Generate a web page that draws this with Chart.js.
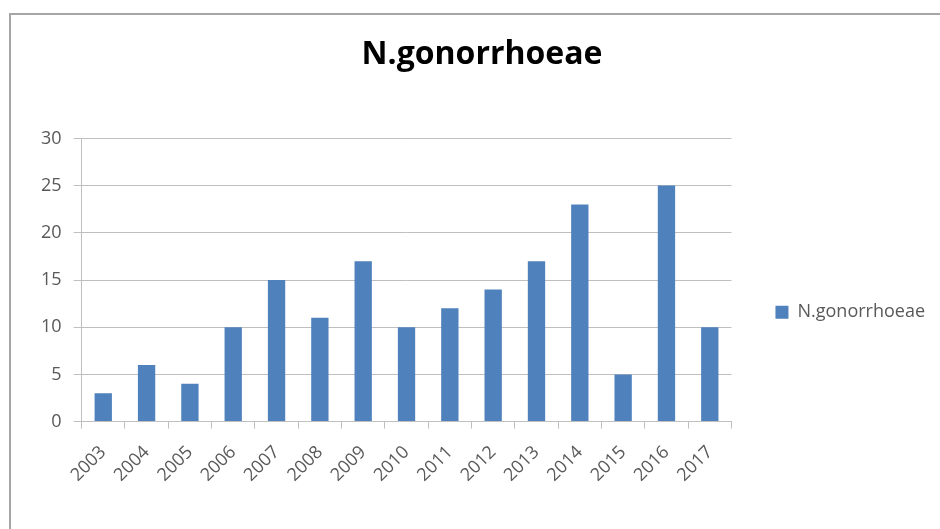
<!DOCTYPE html>
<html>
<head>
<meta charset="utf-8">
<title>N.gonorrhoeae</title>
<script src="https://cdn.jsdelivr.net/npm/chart.js@4/dist/chart.umd.min.js"></script>
<style>
    html, body { margin: 0; padding: 0; background: #fff; overflow: hidden; }
    #wrap { position: relative; width: 940px; height: 529px; }
    #frame { position: absolute; left: 9px; top: 13px; width: 1000px; height: 600px; border: 2px solid #a6a6a6; box-sizing: border-box; }
    canvas { position: absolute; left: 0; top: 0; }
</style>
</head>
<body>
<div id="wrap">
    <div id="frame"></div>
    <canvas id="chart" width="940" height="529"></canvas>
</div>
<script>
// data
const years = ['2003', '2004', '2005', '2006', '2007', '2008', '2009', '2010',
               '2011', '2012', '2013', '2014', '2015', '2016', '2017'];
const cases = [3, 6, 4, 10, 15, 11, 17, 10, 12, 14, 17, 23, 5, 25, 10];
const yTicks = [0, 5, 10, 15, 20, 25, 30];

const seriesName = 'N.gonorrhoeae';
const barColor = '#4f81bd';
const textGray = '#595959';
const lineGray = '#bfbfbf';

Chart.defaults.font.family = '"Open Sans", sans-serif';
Chart.defaults.animation = false;

new Chart(document.getElementById('chart').getContext('2d'), {
    type: 'bar',
    data: {
        labels: years,
        datasets: [{
            label: seriesName,
            data: cases,
            backgroundColor: barColor,
            borderWidth: 0,
            barPercentage: 0.5,
            categoryPercentage: 0.8
        }]
    },
    options: {
        responsive: false,
        layout: { padding: { left: 29, right: 5, top: 14, bottom: 30 } },
        plugins: {
            title: {
                display: true,
                text: seriesName,
                color: '#000',
                font: { size: 32, weight: 'bold' },
                padding: { top: 22, bottom: 64 }
            },
            legend: {
                position: 'right',
                align: 'center',
                // blank title only pushes the entry down to mid height
                title: { display: true, text: ' ', padding: { top: 0, bottom: 90 }, font: { size: 18 } },
                labels: {
                    color: textGray,
                    font: { size: 18 },
                    boxWidth: 13,
                    boxHeight: 13,
                    padding: 44
                }
            },
            tooltip: { enabled: false }
        },
        scales: {
            x: {
                grid: { drawOnChartArea: false, color: lineGray, tickLength: 7 },
                border: { color: lineGray },
                ticks: { color: textGray, font: { size: 18 }, minRotation: 45, maxRotation: 45, padding: 13 }
            },
            y: {
                min: 0,
                max: 30,
                afterBuildTicks: axis => { axis.ticks = yTicks.map(v => ({ value: v })); },
                grid: { color: lineGray, tickLength: 8 },
                border: { color: lineGray },
                ticks: { color: textGray, font: { size: 18 }, padding: 12 }
            }
        }
    }
});
</script>
</body>
</html>
